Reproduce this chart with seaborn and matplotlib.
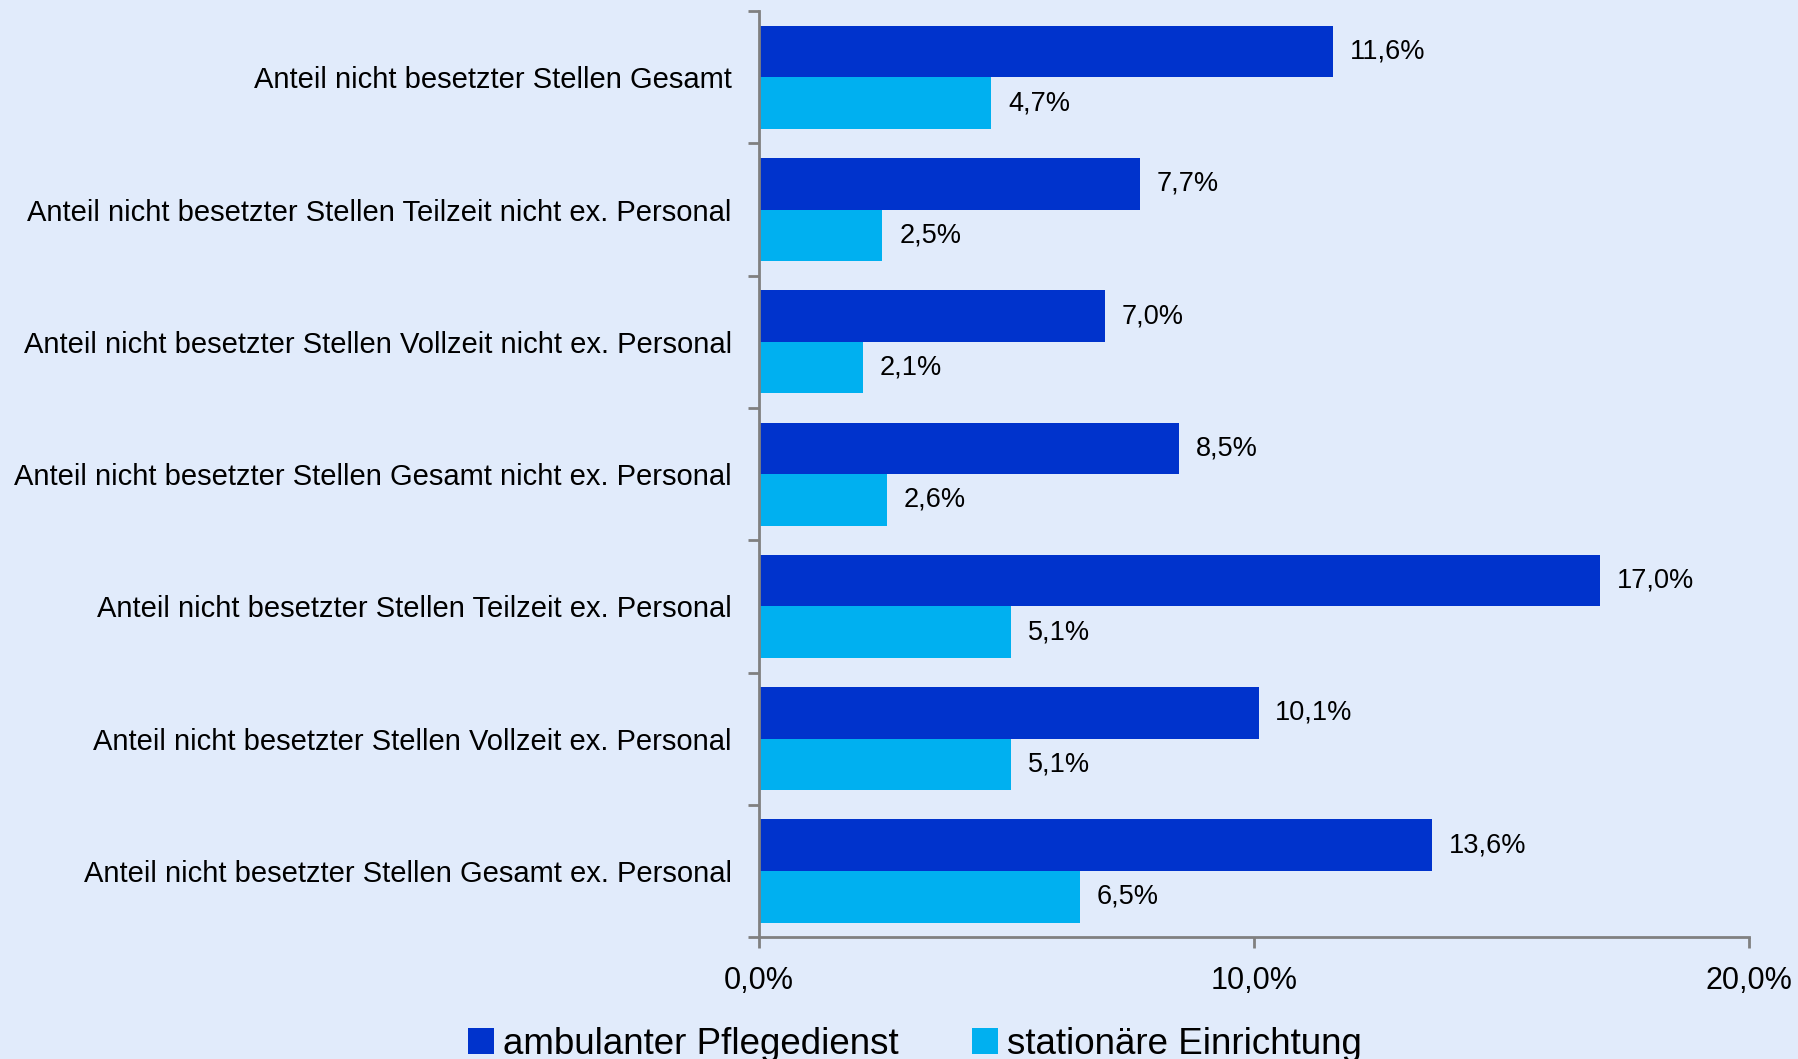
import pandas as pd
import numpy as np
import matplotlib
matplotlib.use("Agg")
import matplotlib.pyplot as plt
import seaborn as sns
from matplotlib.ticker import FixedLocator

# data
categories = [
    "Anteil nicht besetzter Stellen Gesamt",
    "Anteil nicht besetzter Stellen Teilzeit nicht ex. Personal",
    "Anteil nicht besetzter Stellen Vollzeit nicht ex. Personal",
    "Anteil nicht besetzter Stellen Gesamt nicht ex. Personal",
    "Anteil nicht besetzter Stellen Teilzeit ex. Personal",
    "Anteil nicht besetzter Stellen Vollzeit ex. Personal",
    "Anteil nicht besetzter Stellen Gesamt ex. Personal",
]
series = ["ambulanter Pflegedienst", "stationäre Einrichtung"]
ambulant = [11.6, 7.7, 7.0, 8.5, 17.0, 10.1, 13.6]
stationaer = [4.7, 2.5, 2.1, 2.6, 5.1, 5.1, 6.5]
x_ticks = [0, 10, 20]
x_ticklabels = ["0,0%", "10,0%", "20,0%"]

df = pd.DataFrame({
    "Kategorie": categories * 2,
    "Typ": [series[0]] * len(categories) + [series[1]] * len(categories),
    "Wert": ambulant + stationaer,
})

bg = "#E1EBFB"
palette = {series[0]: "#0033CC", series[1]: "#00B0F0"}

sns.set_style("white")
plt.rcParams["font.family"] = ["Liberation Sans", "DejaVu Sans"]
plt.rcParams["text.color"] = "black"
plt.rcParams["xtick.color"] = "black"
plt.rcParams["ytick.color"] = "black"

fig = plt.figure(figsize=(17.98, 10.59), dpi=100, facecolor=bg)
ax = fig.add_axes([0.422, 0.115, 0.5505, 0.8745])
ax.set_facecolor(bg)

sns.barplot(data=df, y="Kategorie", x="Wert", hue="Typ", orient="h",
            palette=palette, width=0.78, linewidth=0, saturation=1,
            order=categories, hue_order=series, ax=ax)

# value labels
for cont in ax.containers:
    labels = [f"{v:.1f}%".replace(".", ",") for v in cont.datavalues]
    ax.bar_label(cont, labels=labels, padding=12, fontsize=19.5, color="black")

ax.set_xlim(0, 20)
ax.set_ylim(len(categories) - 0.5, -0.5)
ax.set_xticks(x_ticks)
ax.set_xticklabels(x_ticklabels, fontsize=22)
ax.set_xlabel("")
ax.set_ylabel("")
ax.tick_params(axis="y", which="major", length=0, pad=19.5, labelsize=21)
ax.yaxis.set_minor_locator(FixedLocator(np.arange(-0.5, len(categories), 1.0)))
ax.tick_params(axis="y", which="minor", length=8, width=2, color="#808080", left=True)
ax.tick_params(axis="x", length=8, width=2, color="#808080", labelcolor="black",
               pad=13, bottom=True)

for s in ["top", "right"]:
    ax.spines[s].set_visible(False)
for s in ["left", "bottom"]:
    ax.spines[s].set_color("#808080")
    ax.spines[s].set_linewidth(2)

ax.legend_.remove()
handles, labels = ax.get_legend_handles_labels()
fig.legend(handles, labels, loc="lower center", bbox_to_anchor=(0.509, -0.034),
           ncol=2, frameon=False, fontsize=26.5, handlelength=0.7, handleheight=0.7,
           handletextpad=0.25, columnspacing=2.0)

fig.savefig("out.png", dpi=100, facecolor=bg)
